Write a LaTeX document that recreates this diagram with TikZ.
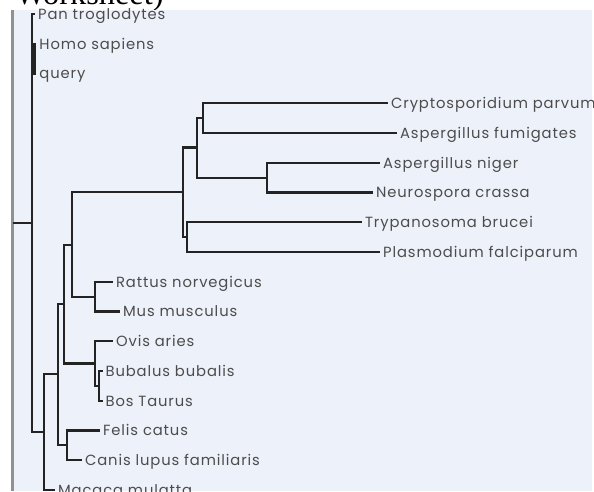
\documentclass[tikz,border=0pt]{standalone}
\usepackage{fontspec}
\setmainfont{Liberation Serif}
\newfontfamily\treefont[LetterSpace=6]{Poppins}
\usepackage{tikz}
\definecolor{Colorpanel}{RGB}{237,241,250}
\definecolor{Colorborde}{RGB}{145,145,145}
\definecolor{Colorrama}{RGB}{35,35,35}
\usetikzlibrary{calc, positioning, backgrounds}

\begin{document}
\begin{tikzpicture}[
  edge/.style ={line width=1.8pt, color=Colorrama},
  leaf/.style ={anchor=west, inner sep=2pt, text=black!70,
                font=\treefont\fontsize{10.5}{12}\selectfont,
                text height=7.5pt, text depth=0pt},
  title/.style={anchor=base west, inner sep=0pt,
                font=\fontsize{23}{26}\selectfont},
]
\useasboundingbox (0,0) rectangle (14.85,12.275);
\clip (0,0) rectangle (14.85,12.275);

%% ═══════════════ FONDO ═══════════════
\node[title] (TT) at (0.375,12.16) {Worksheet)};
\fill[Colorpanel] (0.31,0) rectangle (14.80,12.025);
\draw[Colorborde, line width=2.2pt] (0.31,0) -- (0.31,12.025);

%% ═══════════════ PRIMATES (arriba) ═══════════════
\coordinate (R)  at (0.325, 6.70);
\coordinate (A)  at (0.80, 6.70);
\coordinate (HQ) at (0.86, 11.05);
\node[leaf] (PT) at (0.875, 11.925) {Pan troglodytes};
\node[leaf] (HS) at (0.91, 11.175) {Homo sapiens};
\node[leaf] (QY) at (0.91, 10.44) {query};

\draw[edge] (R)  -- (A);
\draw[edge] (A)  |- (PT.west);
\draw[edge] (A)  |- (HQ);
\draw[edge] (HQ) |- (HS.west);
\draw[edge] (HQ) |- (QY.west);

%% ═══════════════ MAMIFEROS (abajo) ═══════════════
\coordinate (B)  at (1.10, 1.475);
\coordinate (C)  at (1.45, 2.925);
\coordinate (D)  at (1.60, 4.675);
\coordinate (E)  at (1.80, 6.15);
\coordinate (RO) at (2.375, 4.85);
\coordinate (BV) at (2.375, 3.19);
\coordinate (BB) at (2.475, 2.625);
\coordinate (CN) at (1.675, 1.15);

\node[leaf] (RN) at (2.825, 5.23)  {Rattus norvegicus};
\node[leaf] (MM) at (3.00, 4.49)   {Mus musculus};
\node[leaf] (OA) at (2.825, 3.75)  {Ovis aries};
\node[leaf] (BU) at (2.5625, 3.00) {Bubalus bubalis};
\node[leaf] (BT) at (2.5625, 2.25) {Bos Taurus};
\node[leaf] (FC) at (2.50, 1.5125) {Felis catus};
\node[leaf] (CL) at (2.05, 0.775)  {Canis lupus familiaris};
\node[leaf] (MA) at (1.375, 0.025) {Macaca mulatta};

\draw[edge] (A)  |- (B);
\draw[edge] (B)  |- (C);
\draw[edge] (B)  |- (MA.west);
\draw[edge] (C)  |- (D);
\draw[edge] (C)  |- (CN);
\draw[edge] (CN) |- (FC.west);
\draw[edge] (CN) |- (CL.west);
\draw[edge] (D)  |- (E);
\draw[edge] (D)  |- (BV);
\draw[edge] (E)  |- (RO);
\draw[edge] (RO) |- (RN.west);
\draw[edge] (RO) |- (MM.west);
\draw[edge] (BV) |- (OA.west);
\draw[edge] (BV) |- (BB);
\draw[edge] (BB) |- (BU.west);
\draw[edge] (BB) |- (BT.west);

%% ═══════════════ EUCARIOTAS (derecha) ═══════════════
\coordinate (F)  at (4.575, 7.475);
\coordinate (G)  at (4.925, 8.5875);
\coordinate (CA) at (5.075, 9.325);
\coordinate (AN) at (6.675, 7.83);
\coordinate (T)  at (4.675, 6.35);

\node[leaf] (CP) at (9.70, 9.70)   {Cryptosporidium parvum};
\node[leaf] (AF) at (9.925, 8.95)  {Aspergillus fumigates};
\node[leaf] (AG) at (9.50, 8.20)   {Aspergillus niger};
\node[leaf] (NC) at (9.325, 7.46)  {Neurospora crassa};
\node[leaf] (TB) at (9.05, 6.725)  {Trypanosoma brucei};
\node[leaf] (PF) at (9.50, 5.975)  {Plasmodium falciparum};

\draw[edge] (E)  |- (F);
\draw[edge] (F)  |- (G);
\draw[edge] (F)  |- (T);
\draw[edge] (G)  |- (CA);
\draw[edge] (G)  |- (AN);
\draw[edge] (CA) |- (CP.west);
\draw[edge] (CA) |- (AF.west);
\draw[edge] (AN) |- (AG.west);
\draw[edge] (AN) |- (NC.west);
\draw[edge] (T)  |- (TB.west);
\draw[edge] (T)  |- (PF.west);

\end{tikzpicture}
\end{document}
